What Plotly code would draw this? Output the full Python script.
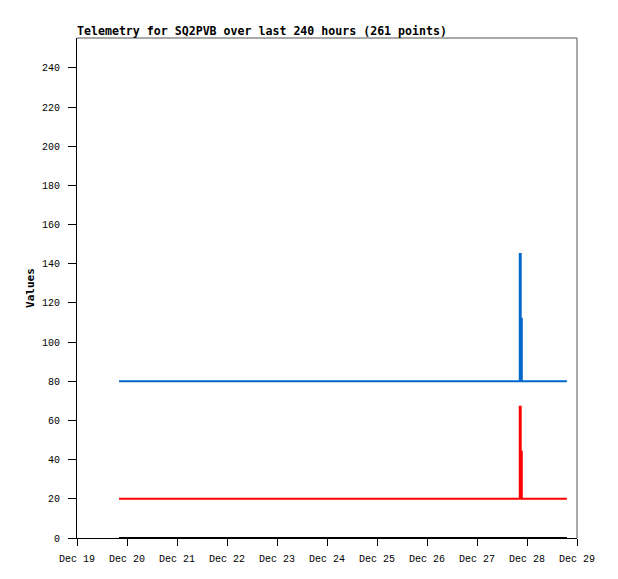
import plotly.graph_objects as go

# ---- data ----
times = ["2023-12-19 20:10", "2023-12-27 20:32", "2023-12-27 20:58",
         "2023-12-27 21:30", "2023-12-28 19:10"]
series_blue = [80, 145, 112, 80, 80]
series_red = [20, 67, 44, 20, 20]
series_black = [0, 0, 0, 0, 0]

title_text = "Telemetry for SQ2PVB over last 240 hours (261 points)"
y_title = "Values"
x_ticks = ["2023-12-%02d" % d for d in (19, 20, 21, 22, 23, 24, 25, 26, 27, 28, 29)]
x_labels = ["Dec %d" % d for d in (19, 20, 21, 22, 23, 24, 25, 26, 27, 28, 29)]
y_ticks = [0, 20, 40, 60, 80, 100, 120, 140, 160, 180, 200, 220, 240]

fig = go.Figure()
fig.add_trace(go.Scatter(x=times, y=series_black, mode="lines",
                         line=dict(color="#000000", width=2, shape="hv"), showlegend=False))
fig.add_trace(go.Scatter(x=times, y=series_red, mode="lines",
                         line=dict(color="#FF0000", width=2, shape="hv"), showlegend=False))
fig.add_trace(go.Scatter(x=times, y=series_blue, mode="lines",
                         line=dict(color="#0066CC", width=2, shape="hv"), showlegend=False))

tick_font = dict(family="Liberation Mono", size=10, color="#000000")

W, H = 610, 571
fig.update_layout(
    width=W, height=H,
    margin=dict(l=69, r=41, t=30, b=41),
    paper_bgcolor="white", plot_bgcolor="white",
    title=dict(text="<b>" + title_text + "</b>", x=69 / W, xanchor="left",
               y=1 - 23 / H, yanchor="middle",
               font=dict(family="DejaVu Sans Mono", size=11.6, color="#000000")),
    xaxis=dict(type="date", range=["2023-12-19", "2023-12-29"],
               tickmode="array", tickvals=x_ticks, ticktext=x_labels,
               showgrid=False, zeroline=False, showline=True, linecolor="#000000",
               linewidth=1, ticks="outside", ticklen=7, tickcolor="#000000",
               tickfont=tick_font, ticklabelstandoff=4),
    yaxis=dict(range=[0, 255.3], tickmode="array", tickvals=y_ticks,
               showgrid=False, zeroline=False, showline=True, linecolor="#000000",
               linewidth=1, ticks="outside", ticklen=8, tickcolor="#000000",
               tickfont=tick_font, ticklabelstandoff=6,
               title=dict(text="<b>" + y_title + "</b>", standoff=5,
                          font=dict(family="DejaVu Sans Mono", size=11, color="#000000"))),
    shapes=[
        dict(type="line", xref="paper", yref="paper", x0=0, x1=1, y0=1, y1=1,
             line=dict(color="#555555", width=1)),
        dict(type="line", xref="paper", yref="paper", x0=1, x1=1, y0=0, y1=1,
             line=dict(color="#555555", width=1)),
    ],
)

fig.write_html("out.html")
